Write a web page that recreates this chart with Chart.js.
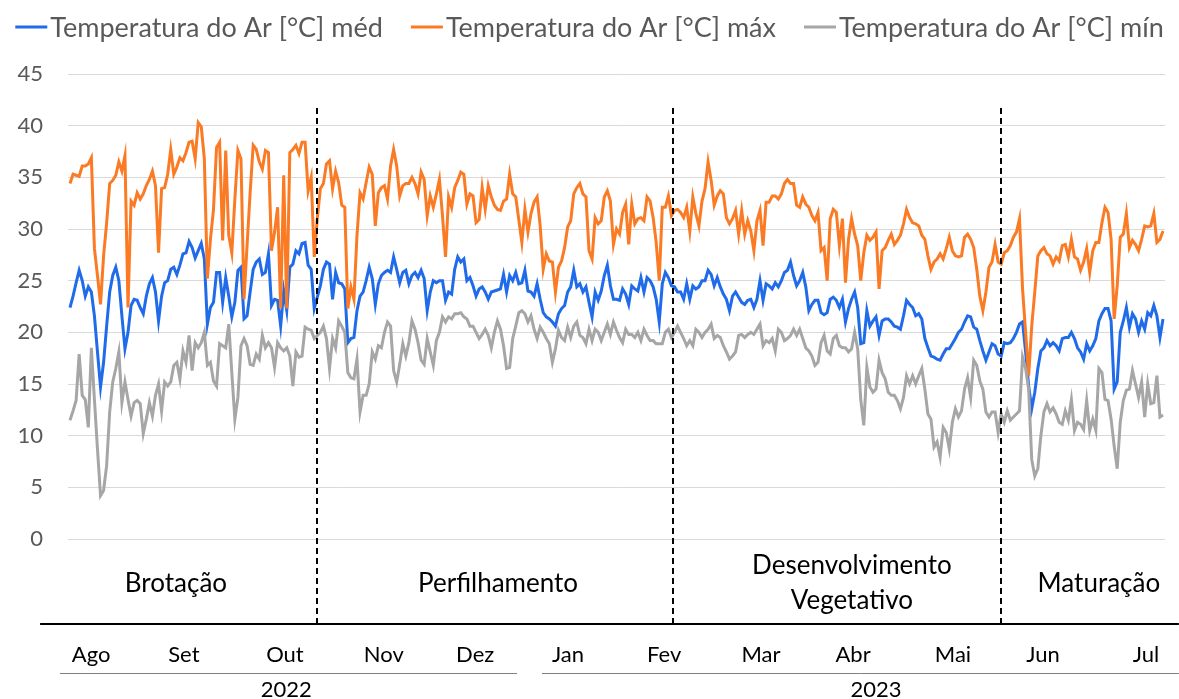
<!DOCTYPE html>
<html lang="pt">
<head>
<meta charset="utf-8">
<title>Temperatura do Ar</title>
<script src="https://cdn.jsdelivr.net/npm/chart.js@4.4.1/dist/chart.umd.min.js"></script>
<style>
  html, body { margin: 0; padding: 0; background: #fff; }
  #wrap { width: 1179px; height: 699px; }
</style>
</head>
<body>
<div id="wrap"><canvas id="tempChart" width="1179" height="699"></canvas></div>
<script>
// Daily air temperature, Aug 2022 - Jul 2023
const tMed = [
  22.4,23.5,24.8,26.0,25.0,23.5,24.4,23.9,21.6,18.1,14.7,17.1,20.6,23.9,25.5,26.3,25.0,21.6,18.4,20.0,
  22.6,23.2,23.1,22.4,21.8,23.5,24.7,25.3,23.9,21.1,23.5,24.8,25.0,26.1,26.3,25.6,26.5,27.6,27.7,28.8,
  28.2,27.2,27.9,28.6,27.1,20.8,22.4,22.9,25.8,25.8,22.9,25.3,23.5,21.5,22.9,26.0,26.3,21.3,21.6,23.9,
  26.1,26.8,27.1,
  25.6,25.8,27.6,22.6,23.2,23.1,20.6,24.0,22.1,26.3,26.6,27.9,27.6,28.6,28.7,26.5,26.1,22.3,23.4,24.5,
  26.1,26.8,26.6,23.2,25.8,24.8,24.7,24.2,19.0,19.4,19.5,22.1,23.5,23.9,25.0,26.3,25.2,22.7,24.7,25.5,
  25.8,26.0,25.8,27.3,26.1,24.8,25.8,26.0,24.7,25.5,25.8,25.3,26.0,25.2,22.1,23.9,25.0,24.8,25.0,
  25.0,23.1,23.9,23.7,26.1,27.3,26.8,27.1,25.0,25.3,24.5,23.5,24.2,24.4,23.9,23.2,23.9,24.0,24.1,24.2,
  25.6,23.9,25.5,25.0,25.8,24.7,24.8,26.0,24.0,23.9,23.5,24.7,23.2,21.9,21.5,21.3,21.0,20.6,21.8,22.3,
  22.6,23.9,24.4,26.0,24.4,24.7,23.9,24.4,22.9,21.5,23.9,23.1,24.0,25.5,26.5,24.5,23.2,23.2,23.1,24.2,
  23.7,22.7,24.5,
  24.2,24.0,25.3,23.9,25.3,25.0,24.4,23.2,21.0,24.7,25.8,25.3,24.5,24.4,23.9,23.9,23.2,24.7,23.2,24.5,
  24.2,24.4,25.0,25.0,26.0,25.6,24.5,25.3,24.4,23.7,23.2,22.1,23.5,23.9,23.4,22.9,22.7,23.1,23.2,22.4,
  23.2,25.0,23.1,24.7,24.5,24.2,24.8,24.4,25.0,25.8,26.0,26.8,25.5,24.5,25.0,25.8,24.4,22.1,22.7,23.1,
  23.1,21.9,21.7,
  21.9,23.2,23.4,23.1,22.4,23.2,21.0,22.3,23.2,23.9,22.4,18.9,19.0,22.1,20.6,21.1,21.5,19.7,21.1,21.3,
  21.3,21.0,20.6,20.5,20.3,21.6,23.1,22.7,22.4,21.6,21.8,21.3,19.4,18.5,17.7,17.6,17.4,17.3,17.9,18.4,
  18.4,18.9,19.4,20.0,20.3,21.0,21.6,21.5,20.5,20.3,19.2,18.2,17.3,18.1,18.9,
  18.7,17.9,17.7,19.0,18.9,19.0,19.4,20.0,20.8,21.0,18.1,14.8,12.6,14.2,16.5,18.2,18.5,19.2,18.7,19.0,
  18.7,18.2,19.4,19.5,19.5,20.0,19.4,18.5,18.1,17.4,18.9,18.2,18.7,19.4,21.1,21.8,22.3,22.3,21.1,14.5,
  15.2,20.0,21.1,22.4,20.5,21.8,21.3,20.0,21.1,20.3,21.9,21.6,22.6,21.6,19.5,21.3
];
const tMax = [
  34.4,35.3,35.2,35.1,36.1,36.1,36.3,36.9,28.1,25.5,22.7,27.4,30.6,34.4,34.7,35.2,36.5,35.6,37.1,22.4,
  32.7,32.3,33.5,32.9,33.4,34.2,34.8,35.6,34.2,27.7,33.9,34.0,35.3,37.7,35.3,36.0,36.9,36.6,37.4,38.4,
  38.5,36.8,40.3,39.9,36.8,25.2,29.0,31.9,37.9,38.4,28.9,37.6,29.4,27.7,32.9,37.6,36.8,23.2,28.4,33.5,
  38.1,37.7,36.5,
  35.8,37.6,37.4,27.9,29.7,32.1,22.3,35.2,22.3,37.4,37.7,38.1,37.3,38.4,38.4,33.7,35.0,27.3,31.0,33.9,
  34.4,36.3,36.6,33.9,35.6,34.5,32.3,32.1,22.3,24.4,23.2,29.4,33.5,32.9,34.5,36.0,35.3,30.3,33.5,34.0,
  34.2,32.9,36.1,37.7,36.1,33.2,34.2,34.4,34.4,35.0,34.4,33.4,35.5,34.8,31.3,33.2,32.1,33.4,34.8,
  31.3,27.3,33.1,32.1,34.0,34.7,35.5,35.3,32.4,33.4,33.2,30.6,30.9,34.0,31.9,34.2,33.1,32.3,31.9,31.8,
  32.7,32.9,35.3,33.4,33.1,30.9,28.7,31.9,29.7,31.5,32.6,33.1,30.3,26.1,27.6,26.9,26.8,23.9,26.3,26.9,
  28.2,30.2,30.8,33.4,34.0,34.4,33.4,33.1,27.9,27.1,31.1,30.5,30.8,33.1,33.7,32.7,28.5,30.0,29.5,31.6,
  32.4,28.5,32.4,
  30.5,31.0,31.1,30.8,33.1,32.7,31.1,28.7,25.0,32.1,32.1,33.2,31.3,31.8,31.9,31.6,31.1,32.1,29.8,33.1,
  31.5,30.3,32.7,33.9,36.5,34.7,32.3,33.2,33.7,33.4,31.1,30.5,31.0,31.8,29.5,31.8,29.5,30.8,29.8,27.9,
  30.8,31.8,28.4,32.6,32.6,33.2,33.2,32.9,33.4,34.4,34.8,34.4,34.4,32.3,32.1,33.1,32.4,32.1,31.3,30.8,
  31.6,27.9,28.2,
  25.0,31.0,31.9,31.6,28.4,31.0,24.8,29.0,31.0,29.5,28.4,25.0,27.7,29.4,28.9,29.2,29.7,24.2,27.9,28.2,
  28.9,29.5,28.5,28.9,29.4,30.5,31.9,31.1,30.6,30.5,30.3,29.4,29.0,27.4,26.1,26.8,27.1,27.6,27.1,28.1,
  29.2,27.9,27.4,27.3,27.4,29.2,29.5,29.0,28.2,26.1,23.5,22.1,23.9,26.3,26.8,
  28.5,26.8,26.6,27.7,27.9,28.4,29.2,29.7,31.0,24.2,20.0,15.8,20.6,23.9,27.4,27.9,28.2,27.6,27.4,26.6,
  27.3,26.9,28.4,28.5,27.3,29.0,27.3,27.1,26.0,26.8,28.1,25.8,27.9,28.7,28.7,30.6,32.1,31.6,29.0,21.3,
  24.5,29.2,29.5,31.5,28.2,28.9,28.5,27.9,29.0,30.3,30.2,30.3,31.5,28.7,29.0,29.8
];
const tMin = [
  11.5,12.4,13.4,17.9,13.9,13.5,10.8,18.5,13.5,8.7,4.2,4.7,7.1,12.3,15.2,16.5,18.1,13.2,15.2,13.5,
  11.9,13.2,13.4,13.1,10.2,11.6,13.2,11.9,13.9,15.0,12.4,15.2,14.8,15.2,16.8,17.1,15.5,18.2,17.1,19.7,
  16.3,19.0,18.5,19.0,20.0,16.8,17.1,15.3,14.8,18.9,18.7,18.5,20.8,16.1,11.6,13.7,18.7,19.4,18.7,16.9,
  16.8,17.9,17.4,
  19.7,18.5,19.0,18.5,16.6,19.0,18.5,18.2,18.5,17.7,14.8,18.1,17.6,17.7,20.5,20.3,20.2,19.4,19.7,20.0,
  20.6,19.4,16.5,19.4,18.5,21.1,20.6,20.0,16.1,15.6,15.5,17.4,12.3,13.9,13.9,15.0,18.1,17.4,18.7,18.5,
  20.0,21.0,20.6,16.3,15.2,16.9,18.9,17.7,19.0,21.1,20.3,19.0,17.3,16.9,19.4,18.1,16.8,19.2,20.0,
  21.5,21.0,21.5,21.3,21.8,21.8,21.9,21.5,21.3,20.6,20.6,20.0,19.4,19.8,20.3,19.7,18.5,20.0,21.1,20.3,
  18.7,16.5,16.6,19.4,20.6,21.9,22.1,21.8,21.0,21.6,20.3,19.4,20.5,20.0,19.4,18.9,17.1,18.4,20.2,19.5,
  19.2,20.5,19.5,20.6,21.0,19.7,19.5,18.9,20.3,19.2,20.3,20.0,19.2,20.0,20.8,19.8,21.0,20.2,19.5,19.0,
  20.3,19.8,19.8,
  19.5,20.0,19.2,20.3,19.7,19.2,19.2,18.9,18.9,18.9,20.0,20.3,19.5,20.0,20.6,20.0,19.4,18.7,19.2,18.7,
  20.3,20.0,19.5,20.0,20.3,20.8,19.4,19.7,19.5,18.7,18.1,17.4,17.7,18.1,19.7,19.8,19.5,19.8,20.0,19.8,
  20.3,20.8,18.7,19.2,19.0,19.4,18.2,20.3,20.0,19.2,19.4,19.7,20.3,19.7,20.3,19.4,18.5,18.2,17.7,16.8,
  17.1,19.0,19.7,
  18.2,17.9,19.4,19.7,18.7,18.5,18.5,18.1,18.4,20.0,18.4,13.5,11.0,16.6,14.7,14.2,14.5,17.3,16.1,15.5,
  14.2,13.9,13.9,13.4,12.6,13.7,15.8,15.0,15.8,15.0,15.8,16.5,14.5,12.1,11.6,8.9,9.4,7.9,10.8,10.3,
  8.7,11.3,12.6,11.8,12.4,14.5,15.6,13.7,17.3,16.8,15.3,14.5,12.3,11.8,12.3,
  12.3,10.3,12.1,11.3,12.4,11.5,11.8,12.1,12.4,17.6,16.5,14.5,7.7,6.1,6.8,10.0,12.3,13.1,12.3,12.7,
  12.1,11.3,11.1,12.4,11.5,13.5,10.5,11.3,11.1,10.6,13.4,10.5,11.6,10.5,16.5,16.1,13.5,13.4,11.6,9.0,
  6.8,11.3,13.4,14.4,14.5,16.3,15.0,13.7,15.2,11.8,15.0,13.1,13.2,15.8,11.8,12.0
];

const seriesNames = ['Temperatura do Ar [°C] méd', 'Temperatura do Ar [°C] máx', 'Temperatura do Ar [°C] mín'];

// annotation rows under the plot, positioned on the day axis
const months = ['Ago', 'Set', 'Out', 'Nov', 'Dez', 'Jan', 'Fev', 'Mar', 'Abr', 'Mai', 'Jun', 'Jul'];
const monthDay = [6.9, 37.3, 70.4, 102.8, 132.7, 163.1, 194.6, 226.3, 256.5, 289.2, 318.7, 352.4];
const phases = [['Brotação'], ['Perfilhamento'], ['Desenvolvimento', 'Vegetativo'], ['Maturação']];
const phaseDay = [34.7, 140.2, 256.1, 337.0];
const phaseLimits = [80.9, 197.5, 304.9];
const years = ['2022', '2023'];
const yearDay = [70.8, 264.0];
const yearSpan = [[-3.3, 146.4], [154.6, 363.2]];

const colors = {
  med: '#1f6be9',
  max: '#fb7a24',
  min: '#a6a6a6',
  text: '#595959',
  grid: '#d9d9d9'
};
const FONT = 'Lato, "Open Sans", sans-serif';

// rows below the plot, offsets in px from the bottom of the plot area
const rows = { phase: 45, phase1: 27, phase2: 62, rule: 85, month: 116, yearRule: 134, year: 151 };

const toPoints = arr => arr.map((v, i) => ({ x: i, y: v }));

// legend drawn by hand: short line, tight gap, then the text
const legendPlugin = {
  id: 'lineLegend',
  afterDraw(chart) {
    const { ctx, width } = chart;
    const sets = chart.data.datasets;
    const lineW = 32, gapText = 3, gapItem = 28, yMid = 27;
    ctx.save();
    ctx.font = '27px ' + FONT;
    const widths = sets.map(ds => lineW + gapText + ctx.measureText(ds.label).width);
    const total = widths.reduce((a, b) => a + b, 0) + gapItem * (sets.length - 1);
    let x = (width - total) / 2;
    ctx.textBaseline = 'middle';
    ctx.textAlign = 'left';
    sets.forEach((ds, i) => {
      ctx.strokeStyle = ds.borderColor;
      ctx.lineWidth = 3;
      ctx.beginPath();
      ctx.moveTo(x, yMid);
      ctx.lineTo(x + lineW, yMid);
      ctx.stroke();
      ctx.fillStyle = colors.text;
      ctx.fillText(ds.label, x + lineW + gapText, yMid + 1);
      x += widths[i] + gapItem;
    });
    ctx.restore();
  }
};

const stagesPlugin = {
  id: 'stages',
  afterDatasetsDraw(chart) {
    const { ctx, chartArea, scales: { x, y } } = chart;
    const base = chartArea.bottom;
    const px = d => x.getPixelForValue(d);
    ctx.save();

    // dashed limits between growth phases
    ctx.strokeStyle = '#000';
    ctx.lineWidth = 2;
    ctx.setLineDash([6, 4]);
    phaseLimits.forEach(d => {
      const xp = Math.round(px(d));
      ctx.beginPath();
      ctx.moveTo(xp, y.getPixelForValue(41.7));
      ctx.lineTo(xp, base + rows.rule);
      ctx.stroke();
    });
    ctx.setLineDash([]);

    // black rule under the phase names
    ctx.lineWidth = 2;
    ctx.beginPath();
    ctx.moveTo(px(-9.8), base + rows.rule);
    ctx.lineTo(px(363.2), base + rows.rule);
    ctx.stroke();

    // thin rules above the years
    ctx.strokeStyle = '#7f7f7f';
    ctx.lineWidth = 1;
    yearSpan.forEach(([a, b]) => {
      ctx.beginPath();
      ctx.moveTo(px(a), base + rows.yearRule + 0.5);
      ctx.lineTo(px(b), base + rows.yearRule + 0.5);
      ctx.stroke();
    });

    ctx.fillStyle = '#000';
    ctx.textAlign = 'center';
    ctx.textBaseline = 'middle';

    ctx.font = '26px ' + FONT;
    phases.forEach((lines, i) => {
      if (lines.length === 1) {
        ctx.fillText(lines[0], px(phaseDay[i]), base + rows.phase);
      } else {
        ctx.fillText(lines[0], px(phaseDay[i]), base + rows.phase1);
        ctx.fillText(lines[1], px(phaseDay[i]), base + rows.phase2);
      }
    });

    ctx.font = '22px ' + FONT;
    months.forEach((m, i) => ctx.fillText(m, px(monthDay[i]), base + rows.month));
    years.forEach((yr, i) => ctx.fillText(yr, px(yearDay[i]), base + rows.year));

    ctx.restore();
  }
};

new Chart(document.getElementById('tempChart'), {
  type: 'line',
  data: {
    datasets: [
      { label: seriesNames[0], data: toPoints(tMed), borderColor: colors.med, backgroundColor: colors.med, order: 3 },
      { label: seriesNames[1], data: toPoints(tMax), borderColor: colors.max, backgroundColor: colors.max, order: 2 },
      { label: seriesNames[2], data: toPoints(tMin), borderColor: colors.min, backgroundColor: colors.min, order: 1 }
    ]
  },
  options: {
    responsive: false,
    animation: false,
    layout: { padding: { top: 74, right: 14, bottom: 160, left: 0 } },
    elements: {
      line: { borderWidth: 3, tension: 0 },
      point: { radius: 0 }
    },
    plugins: {
      legend: { display: false },
      tooltip: { enabled: false }
    },
    scales: {
      x: {
        type: 'linear',
        min: -0.655,
        max: 358.655,
        display: false
      },
      y: {
        min: 0,
        max: 45,
        grid: { color: colors.grid, lineWidth: 1, drawTicks: false },
        border: { display: false },
        ticks: {
          stepSize: 5,
          padding: 25,
          color: colors.text,
          font: { family: FONT, size: 22 }
        },
        afterFit(scale) { scale.width = 68; }
      }
    }
  },
  plugins: [stagesPlugin, legendPlugin]
});
</script>
</body>
</html>
